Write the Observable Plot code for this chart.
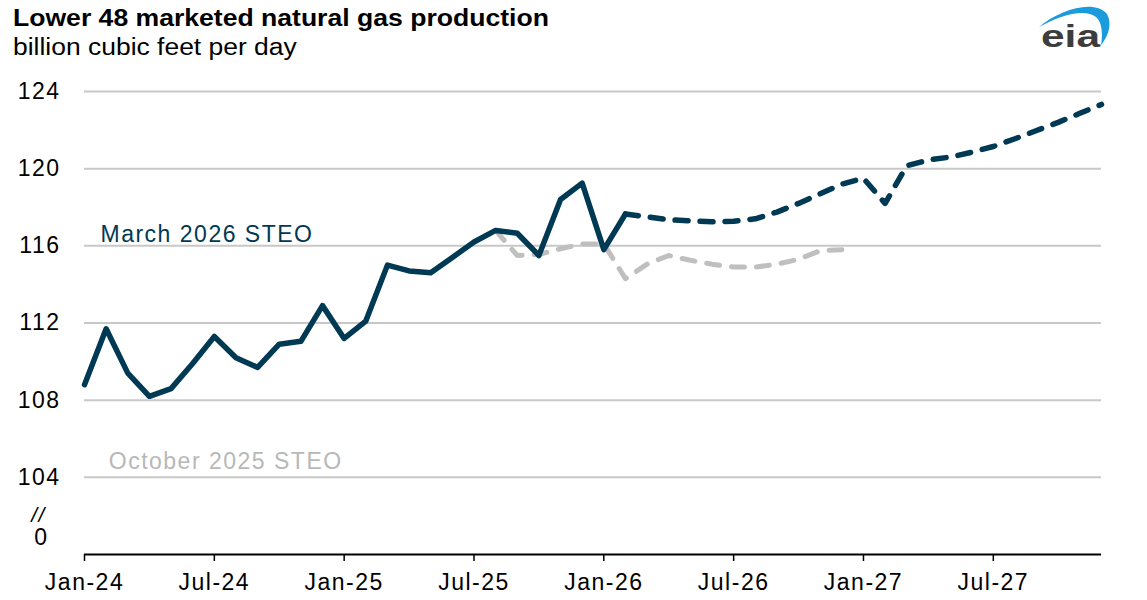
<!DOCTYPE html>
<html><head><meta charset="utf-8">
<script src="https://cdn.jsdelivr.net/npm/d3@7"></script>
<script src="https://cdn.jsdelivr.net/npm/@observablehq/plot@0.6"></script>
<style>
body{margin:0;background:#fff;font-family:"Liberation Sans",Arial,sans-serif;}
#wrap{position:relative;width:1147px;height:600px;overflow:hidden;background:#fff;}
.title{position:absolute;left:13px;top:7px;font-size:23px;line-height:23px;font-weight:bold;color:#000;transform:scaleX(1.155);transform-origin:0 0;white-space:nowrap;}
.sub{position:absolute;left:13px;top:36px;font-size:23px;line-height:23px;color:#000;transform:scaleX(1.15);transform-origin:0 0;white-space:nowrap;}
#chart{position:absolute;left:0;top:65px;}
#logo{position:absolute;left:1030px;top:0;}
</style></head>
<body><div id="wrap">
<div class="title">Lower 48 marketed natural gas production</div>
<div class="sub">billion cubic feet per day</div>
<svg id="logo" width="117" height="65" viewBox="1030 0 117 65">
<path d="M1039,27 C1060,9 1095,-1 1107,14 C1113,25 1107,38 1101,45 C1103,34 1102,22 1096,17 C1085,8 1060,15 1039,27 Z" fill="#1a9bdc"/>
<text x="1041" y="47" font-family="Liberation Sans, Arial, sans-serif" font-size="31" font-weight="bold" fill="#3d3d3d" textLength="59" lengthAdjust="spacingAndGlyphs">eia</text>
</svg>
<div id="chart"></div>
</div>
<script>
const months = [
  "Jan-24","Feb-24","Mar-24","Apr-24","May-24","Jun-24","Jul-24","Aug-24","Sep-24","Oct-24","Nov-24","Dec-24",
  "Jan-25","Feb-25","Mar-25","Apr-25","May-25","Jun-25","Jul-25","Aug-25","Sep-25","Oct-25","Nov-25","Dec-25",
  "Jan-26","Feb-26","Mar-26","Apr-26","May-26","Jun-26","Jul-26","Aug-26","Sep-26","Oct-26","Nov-26","Dec-26",
  "Jan-27","Feb-27","Mar-27","Apr-27","May-27","Jun-27","Jul-27","Aug-27","Sep-27","Oct-27","Nov-27","Dec-27"
];
// March 2026 STEO, Jan-24 .. Dec-27
const march2026 = [
  108.8,111.7,109.4,108.2,108.6,109.9,111.3,110.2,109.7,110.9,111.05,112.9,
  111.2,112.1,115.0,114.7,114.6,115.4,116.2,116.8,116.65,115.5,118.4,119.25,
  115.8,117.65,117.5,117.35,117.3,117.25,117.27,117.4,117.75,118.2,118.7,119.2,
  119.5,118.2,120.15,120.45,120.6,120.85,121.15,121.55,121.98,122.4,122.87,123.33
];
const lastHistoricalMonth = "Feb-26";
// October 2025 STEO, Aug-25 .. Dec-26
const october2025Start = "Aug-25";
const october2025 = [
  116.8,115.5,115.55,115.85,116.1,116.1,114.3,115.05,115.5,115.25,115.05,114.9,114.9,115.05,115.3,115.75,115.8
];
const yTicks = [104,108,112,116,120,124];
const xTickLabels = ["Jan-24","Jul-24","Jan-25","Jul-25","Jan-26","Jul-26","Jan-27","Jul-27"];
const seriesLabels = ["March 2026 STEO","October 2025 STEO"];

const navy = "#003953";
const grey = "#bfbfbf";
const histIdx = months.indexOf(lastHistoricalMonth);
const solid = march2026.slice(0, histIdx + 1).map((v, i) => ({x: i, y: v}));
const dashed = march2026.slice(histIdx).map((v, i) => ({x: i + histIdx, y: v}));
const octIdx = months.indexOf(october2025Start);
const oct = october2025.map((v, i) => ({x: i + octIdx, y: v}));
const xTicks = xTickLabels.map(l => months.indexOf(l));

const chart = Plot.plot({
  width: 1147, height: 535,
  marginLeft: 84, marginRight: 46, marginTop: 26, marginBottom: 46,
  style: {fontFamily: '"Liberation Sans", Arial, sans-serif', fontSize: "23px", color: "#000", background: "transparent", letterSpacing: "1.5px", overflow: "visible"},
  x: {type: "linear", domain: [0, months.length - 1], axis: null},
  y: {domain: [100, 124], axis: null},
  marks: [
    Plot.ruleY(yTicks, {stroke: "#c8c8c8", strokeWidth: 2}),
    Plot.axisY(yTicks, {label: null, tickSize: 0, tickPadding: 24, fontSize: 23, fill: "#000"}),
    Plot.text([{y: 100, t: "0"}], {y: "y", text: "t", frameAnchor: "left", dx: -43, dy: -17, textAnchor: "middle", fontSize: 23, fill: "#000"}),
    Plot.text([{y: 100, t: "//"}], {y: "y", text: "t", frameAnchor: "left", dx: -46, dy: -39, textAnchor: "middle", fontSize: 21, fontStyle: "italic", fill: "#000"}),
    Plot.ruleY([100], {stroke: "#000", strokeWidth: 2}),
    Plot.axisX(xTicks, {label: null, tickSize: 7, tickPadding: 12, tickFormat: i => months[i], stroke: "#000", strokeWidth: 1.5, fontSize: 23, fill: "#000"}),
    Plot.line(oct, {x: "x", y: "y", stroke: grey, strokeWidth: 5, strokeDasharray: "13 12", strokeLinecap: "round", strokeLinejoin: "round"}),
    Plot.line(solid, {x: "x", y: "y", stroke: navy, strokeWidth: 5.5, strokeLinejoin: "round"}),
    Plot.line(dashed, {x: "x", y: "y", stroke: navy, strokeWidth: 5.5, strokeDasharray: "13 12", strokeLinecap: "round", strokeLinejoin: "round"}),
    Plot.text([{x: 0.74, y: 116.6, t: seriesLabels[0]}], {x: "x", y: "y", text: "t", textAnchor: "start", fontSize: 23, fill: navy}),
    Plot.text([{x: 1.12, y: 104.82, t: seriesLabels[1]}], {x: "x", y: "y", text: "t", textAnchor: "start", fontSize: 23, fill: "#b8b8b8"})
  ]
});
document.getElementById("chart").appendChild(chart);
</script>
</body></html>
